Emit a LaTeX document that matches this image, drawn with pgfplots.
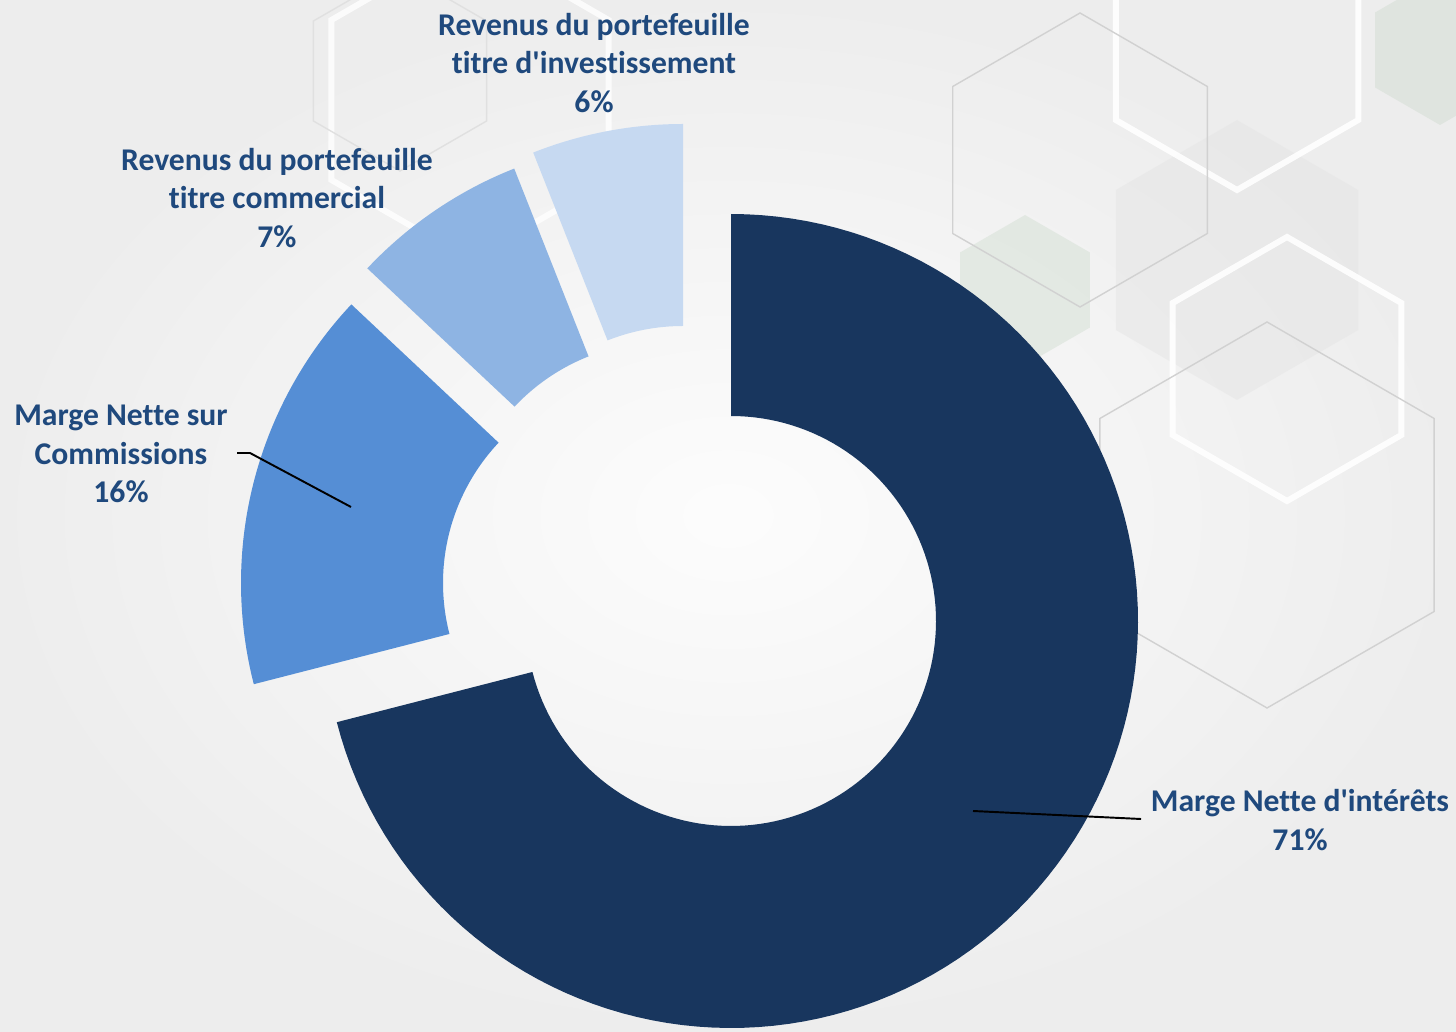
\documentclass[border=0pt]{standalone}
\usepackage{fontspec}
\setmainfont{Carlito}
\newfontfamily\labfont{Carlito}[Ligatures=NoCommon]
\usepackage{pgfplots}
\pgfplotsset{compat=1.18}
\usepgfplotslibrary{fillbetween}
\definecolor{cA}{RGB}{24,54,94}
\definecolor{cB}{RGB}{85,142,213}
\definecolor{cC}{RGB}{142,180,227}
\definecolor{cD}{RGB}{198,217,241}
\definecolor{lab}{RGB}{31,73,125}
% values (percent)
\def\vA{71}\def\vB{16}\def\vC{7}\def\vD{6}
\pgfmathsetmacro\aA{90-3.6*\vA}
\pgfmathsetmacro\aB{\aA-3.6*\vB}
\pgfmathsetmacro\aC{\aB-3.6*\vC}
\pgfmathsetmacro\aD{\aC-3.6*\vD}
\def\Ro{407}\def\Ri{205}
\newcommand\hex[4]{\path[#4] (axis cs:{#1+0.866*#3},{#2+0.5*#3}) -- (axis cs:#1,{#2+#3}) -- (axis cs:{#1-0.866*#3},{#2+0.5*#3}) -- (axis cs:{#1-0.866*#3},{#2-0.5*#3}) -- (axis cs:#1,{#2-#3}) -- (axis cs:{#1+0.866*#3},{#2-0.5*#3}) -- cycle;}
% slice: name, cx, cy, a1, a2, color
\newcommand\slice[6]{%
  \addplot[name path=#1o, draw=none, domain=#4:#5, samples=120] ({#2+\Ro*cos(x)},{#3+\Ro*sin(x)});
  \addplot[name path=#1i, draw=none, domain=#4:#5, samples=120] ({#2+\Ri*cos(x)},{#3+\Ri*sin(x)});
  \addplot[fill=#6, draw=none] fill between[of=#1o and #1i];
}
\begin{document}
\begin{tikzpicture}
\begin{axis}[
  set layers,
  width=14.56cm, height=10.31cm, scale only axis,
  xmin=0, xmax=1456, ymin=0, ymax=1031,
  hide axis, clip=true,
]
\begin{pgfonlayer}{axis background}
  \fill[black!7] (axis cs:0,0) rectangle (axis cs:1456,1031);
  \shade[inner color=black!1, outer color=black!7] (axis cs:0,0) rectangle (axis cs:1456,1031);
  \hex{1237}{771}{140}{fill=black!10, opacity=0.5}
  \hex{1025}{741}{75}{fill=green!30!black!25, opacity=0.3}
  \hex{1440}{981}{75}{fill=green!30!black!25, opacity=0.3}
  \hex{1237}{981}{140}{draw=white, line width=1.7pt, opacity=0.9}
  \hex{1287}{662}{132}{draw=white, line width=1.7pt, opacity=0.9}
  \hex{1080}{871}{147}{draw=black!18, line width=0.4pt}
  \hex{1267}{516}{193}{draw=black!18, line width=0.4pt}
  \hex{470}{931}{160}{draw=white, line width=1.7pt, opacity=0.8}
  \hex{400}{960}{100}{draw=black!12, line width=0.4pt}
\end{pgfonlayer}
\slice{A}{731}{410}{\aA}{90}{cA}
\slice{B}{648}{448}{\aB}{\aA}{cB}
\slice{C}{664}{484}{\aC}{\aB}{cC}
\slice{D}{683}{500}{\aD}{\aC}{cD}
\draw[black, line width=0.55pt] (axis cs:237,578) -- (axis cs:250,578) -- (axis cs:351,524);
\draw[black, line width=0.55pt] (axis cs:973,220) -- (axis cs:1141,212);
\begin{scope}[every node/.style={align=center, text=lab, font=\labfont\fontsize{9}{11}\selectfont\bfseries}]
\node at (axis cs:594,968) {Revenus du portefeuille\\titre d'investissement\\6\%};
\node at (axis cs:277,833) {Revenus du portefeuille\\titre commercial\\7\%};
\node at (axis cs:121,577) {Marge Nette sur\\Commissions\\16\%};
\node at (axis cs:1300,211) {Marge Nette d'intérêts\\71\%};
\end{scope}
\end{axis}
\end{tikzpicture}
\end{document}
